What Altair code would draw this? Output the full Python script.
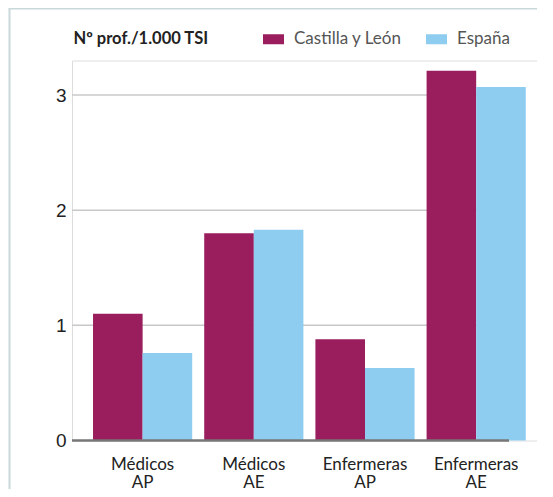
import altair as alt
import pandas as pd

categories = ["Médicos AP", "Médicos AE", "Enfermeras AP", "Enfermeras AE"]
series = ["Castilla y León", "España"]
cyl_values = [1.10, 1.80, 0.88, 3.21]
esp_values = [0.76, 1.83, 0.63, 3.07]
grid_values = [1, 2, 3]
colors = ["#9a1d5e", "#8fcdf0"]

rows = []
for c, a, b in zip(categories, cyl_values, esp_values):
    rows.append({"cat": c, "serie": series[0], "value": a})
    rows.append({"cat": c, "serie": series[1], "value": b})
df = pd.DataFrame(rows)
grid_df = pd.DataFrame({"value": grid_values})
base_df = pd.DataFrame({"value": [0]})
frame_df = pd.DataFrame({"k": [0]})

FONT = "Lato"
yscale = alt.Scale(domain=[0, 3.3], nice=False)

yaxis = alt.Axis(
    title="Nº prof./1.000 TSI", titleAngle=0, titleAlign="left", titleBaseline="alphabetic",
    titleX=1, titleY=-17, titleFont=FONT, titleFontSize=16.5, titleFontWeight="bold",
    titleColor="#222222", values=[0, 1, 2, 3], format="d", labelFont="Liberation Sans",
    labelFontSize=19, labelColor="#222222", labelPadding=6, ticks=False, domain=False, grid=False,
)

grid = alt.Chart(grid_df).mark_rule(color="#c8c8c8", strokeWidth=1.5).encode(
    y=alt.Y("value:Q", scale=yscale, axis=yaxis),
    x=alt.value(0), x2=alt.value(437),
)

bars = alt.Chart(df).mark_bar(width={"band": 1}).encode(
    x=alt.X("cat:N", sort=categories,
            scale=alt.Scale(paddingInner=0.108, paddingOuter=0.145, align=0.652),
            axis=alt.Axis(title=None, labelExpr="split(datum.label, ' ')", labelAngle=0,
                          labelFont=FONT, labelFontSize=17, labelColor="#222222",
                          labelLineHeight=17.5, labelPadding=16, ticks=False, domain=False,
                          grid=False, labelOverlap=False)),
    xOffset=alt.XOffset("serie:N", sort=series, scale=alt.Scale(paddingInner=0, paddingOuter=0)),
    y=alt.Y("value:Q", scale=yscale),
    color=alt.Color("serie:N", sort=series, scale=alt.Scale(domain=series, range=colors),
                    legend=alt.Legend(title=None, orient="none", direction="horizontal",
                                      legendX=191, legendY=-32, padding=0,
                                      symbolType="M-1,-0.476H1V0.476H-1Z", symbolSize=441,
                                      symbolStrokeWidth=0, symbolOpacity=1,
                                      labelFont=FONT, labelFontSize=17, labelColor="#555555",
                                      labelOffset=10, columnPadding=24)),
)

baseline = alt.Chart(base_df).mark_rule(color="#777777", strokeWidth=2.5).encode(
    y=alt.Y("value:Q", scale=yscale), x=alt.value(0), x2=alt.value(437),
)

frame_left = alt.Chart(frame_df).mark_rule(color="#c9d8db", strokeWidth=2).encode(
    x=alt.value(-62.5), y=alt.value(-52), y2=alt.value(440),
)
frame_top = alt.Chart(frame_df).mark_rule(color="#c9d8db", strokeWidth=2).encode(
    x=alt.value(-63.5), x2=alt.value(500), y=alt.value(-52),
)

chart = alt.layer(grid, bars, baseline, frame_left, frame_top).properties(
    width=465, height=380,
    autosize=alt.AutoSizeParams(type="none"),
    padding={"left": 64, "top": 52.5, "right": 0, "bottom": 48.5},
).configure_view(stroke=None).configure(background="white")

chart.save("out.html", embed_options={"renderer": "svg", "actions": False})
